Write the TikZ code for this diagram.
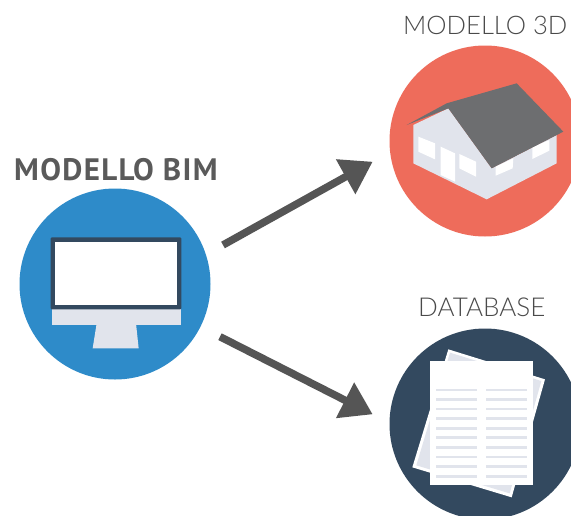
\documentclass[tikz,border=0pt]{standalone}
\usepackage{fontspec}
\usetikzlibrary{arrows.meta}
\newfontfamily\boldlabel[LetterSpace=4.3]{PT Sans Bold}
\newfontfamily\lightlabel{Lato Light}
\definecolor{cred}{HTML}{EE6C5B}
\definecolor{cblue}{HTML}{2E8BC9}
\definecolor{cnavy}{HTML}{33495F}
\definecolor{cgrey}{HTML}{E1E4EC}
\definecolor{croof}{HTML}{6D6E70}
\definecolor{carrow}{HTML}{555555}
\definecolor{ctext}{HTML}{5A5A5A}
\definecolor{ctextl}{HTML}{4A4A4A}
\tikzset{
  disc/.style={circle,inner sep=0pt,minimum size=191pt,fill=#1},
  flow/.style={draw=carrow,line width=7.5pt,-{Triangle[length=31pt,width=38pt]}},
  zoomed/.style={x=0.33333pt,y=-0.33333pt},
  lbl/.style={inner sep=0pt,anchor=base west,text=ctext},
  rowline/.style={fill=cgrey}
}
\begin{document}
\begin{tikzpicture}[x=1pt,y=-1pt]
\useasboundingbox (0,0) rectangle (571,515);
\clip (0,0) rectangle (571,515);
\fill[white] (0,0) rectangle (571,515);
\node[disc=cblue] (bim) at (115,284) {};
\node[disc=cred] (model) at (485,141) {};
\node[disc=cnavy] (db) at (485,424) {};
\node[lbl,font=\boldlabel\fontsize{31}{31}\selectfont] (tbim) at (14,180) {MODELLO BIM};
\node[lbl,text=ctextl,font=\lightlabel\fontsize{25.6}{26}\selectfont] (t3d) at (403,34) {MODELLO 3D};
\node[lbl,text=ctextl,font=\lightlabel\fontsize{26}{26}\selectfont] (tdb) at (418,316) {DATABASE};
% monitor
\begin{scope}[shift={(10,180)},zoomed]
\fill[cgrey] (127,385) rectangle (512,434);
\fill[cgrey] (260,430) -- (378,430) -- (386,505) -- (248,505) -- cycle;
\fill[cnavy,rounded corners=1pt] (122,172) rectangle (514,388);
\fill[white] (136,187) rectangle (500,374);
\end{scope}
% house
\begin{scope}[shift={(380,60)},zoomed]
\fill[cgrey] (100,195) -- (205,145) -- (335,325) -- (530,225) -- (530,310) -- (320,418) -- (100,310) -- cycle;
\fill[white] (115,230) -- (165,250) -- (165,298) -- (115,275) -- cycle;
\fill[white] (182,260) -- (225,280) -- (225,365) -- (182,345) -- cycle;
\fill[white] (238,282) -- (288,305) -- (288,350) -- (238,325) -- cycle;
\fill[white] (347,320) -- (400,295) -- (398,325) -- (347,347) -- cycle;
\fill[white] (457,262) -- (508,240) -- (508,272) -- (457,297) -- cycle;
\fill[croof] (80,195) -- (200,130) -- (410,70) -- (550,215) -- (335,325) -- (205,145) -- cycle;
\end{scope}
% pages
\begin{scope}[shift={(380,320)},zoomed]
\fill[white] (205,88) -- (495,178) -- (395,532) -- (97,442) -- cycle;
\fill[cgrey] (210,98) -- (484,183) -- (389,520) -- (109,436) -- cycle;
\fill[white] (150,123) rectangle (458,495);
\foreach \yy in {210,239,267,296,325,353,382,411,440,469}{
  \fill[rowline] (167,\yy-4) rectangle (290,\yy+4);
  \fill[rowline] (317,\yy-4) rectangle (441,\yy+4);
}
\end{scope}
\coordinate (a1s) at (223,245);
\coordinate (a1e) at (372.7,161.7);
\coordinate (a2s) at (220,336.7);
\coordinate (a2e) at (372.7,414.3);
\draw[flow] (a1s) -- (a1e);
\draw[flow] (a2s) -- (a2e);
\end{tikzpicture}
\end{document}
